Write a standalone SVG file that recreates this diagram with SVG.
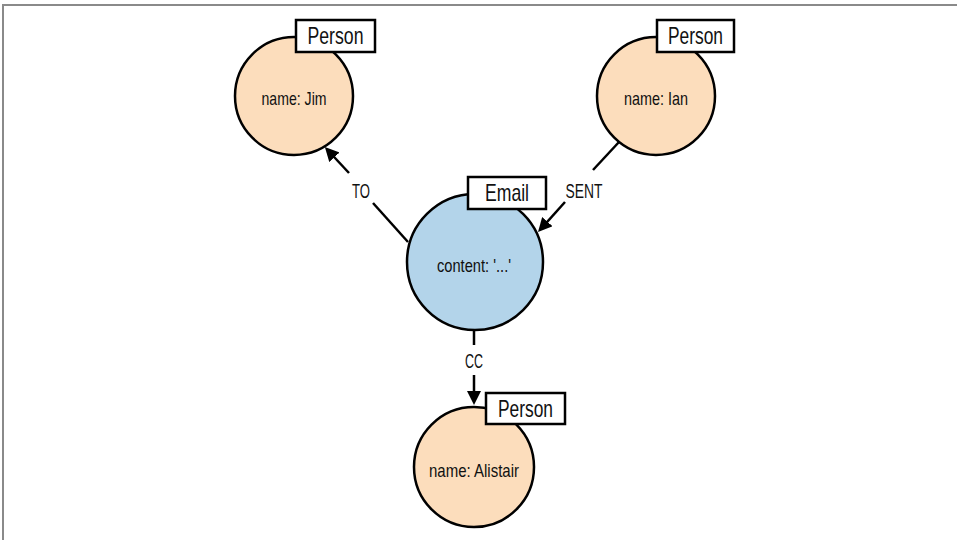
<svg xmlns="http://www.w3.org/2000/svg" width="957" height="540" viewBox="0 0 957 540">
<style>
text{font-family:"Liberation Sans",Arial,sans-serif;fill:#111;text-anchor:middle}
.person{fill:#fcddbc;stroke:#000;stroke-width:2.5}
.email{fill:#b3d4ea;stroke:#000;stroke-width:2.5}
.tag{fill:#fff;stroke:#000;stroke-width:2.5}
.tagt{font-size:24px}
.prop{font-size:19px}
.el{font-size:21px}
.edge{stroke:#000;stroke-width:2.5;fill:none}
</style>
<defs>
<marker id="arr" markerUnits="userSpaceOnUse" viewBox="0 0 14 14" refX="10" refY="7" markerWidth="14" markerHeight="14" orient="auto">
<path d="M0,0 L14,7 L0,14 z" fill="#000"/>
</marker>
</defs>
<rect width="957" height="540" fill="#fff"/>
<path d="M3,540 V5 H957" fill="none" stroke="#8a8a8a" stroke-width="2"/>
<g id="connectors">
<line class="edge" x1="408" y1="242" x2="373" y2="203"/>
<line class="edge" x1="349" y1="173" x2="327.6" y2="150" marker-end="url(#arr)"/>
<text class="el" x="361" y="198" textLength="18" lengthAdjust="spacingAndGlyphs">TO</text>
<line class="edge" x1="619" y1="142" x2="593" y2="170"/>
<line class="edge" x1="565" y1="202" x2="540.7" y2="229.1" marker-end="url(#arr)"/>
<text class="el" x="584" y="198" textLength="37" lengthAdjust="spacingAndGlyphs">SENT</text>
<line class="edge" x1="474" y1="330" x2="474" y2="345"/>
<line class="edge" x1="474" y1="375" x2="474" y2="401" marker-end="url(#arr)"/>
<text class="el" x="474" y="368" textLength="18" lengthAdjust="spacingAndGlyphs">CC</text>
</g>
<g id="jim">
<circle class="person" cx="294" cy="96" r="59"/>
<text class="prop" x="294" y="105" textLength="65" lengthAdjust="spacingAndGlyphs">name: Jim</text>
<rect class="tag" x="296" y="20" width="79" height="32"/>
<text class="tagt" x="335.5" y="44" textLength="56" lengthAdjust="spacingAndGlyphs">Person</text>
</g>
<g id="ian">
<circle class="person" cx="656" cy="96" r="59"/>
<text class="prop" x="656" y="105" textLength="64" lengthAdjust="spacingAndGlyphs">name: Ian</text>
<rect class="tag" x="657" y="20" width="77" height="32"/>
<text class="tagt" x="695.5" y="44" textLength="55" lengthAdjust="spacingAndGlyphs">Person</text>
</g>
<g id="email">
<circle class="email" cx="475" cy="262" r="68"/>
<text class="prop" x="474" y="272" textLength="74" lengthAdjust="spacingAndGlyphs">content: '...'</text>
<rect class="tag" x="468" y="177" width="78" height="32"/>
<text class="tagt" x="507" y="201" textLength="44" lengthAdjust="spacingAndGlyphs">Email</text>
</g>
<g id="alistair">
<circle class="person" cx="474" cy="467" r="60"/>
<text class="prop" x="474" y="477" textLength="90" lengthAdjust="spacingAndGlyphs">name: Alistair</text>
<rect class="tag" x="486" y="393" width="79" height="31"/>
<text class="tagt" x="525.5" y="417" textLength="55" lengthAdjust="spacingAndGlyphs">Person</text>
</g>
</svg>
